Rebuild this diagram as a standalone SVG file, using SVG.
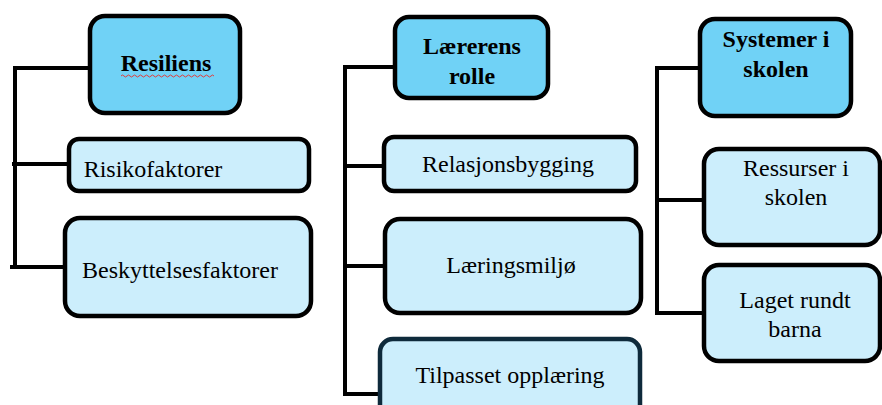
<svg xmlns="http://www.w3.org/2000/svg" width="882" height="405" viewBox="0 0 882 405">
  <style>
    .head rect { fill: #70D2F6; stroke: #000; stroke-width: 4.5; }
    .child rect { fill: #CCEEFC; stroke: #000; stroke-width: 4.5; }
    text { font-family: 'Liberation Serif', serif; font-size: 24px; fill: #000; text-anchor: middle; }
    .ht { font-weight: bold; }
    .conn line { stroke: #000; stroke-width: 4; stroke-linecap: butt; }
  </style>
  <rect width="882" height="405" fill="#fff"/>
  <g class="conn" id="connectors">
    <line x1="15" y1="66" x2="15" y2="269"/>
    <line x1="13" y1="68" x2="90" y2="68"/>
    <line x1="12" y1="164" x2="69" y2="164"/>
    <line x1="10" y1="267" x2="65" y2="267"/>
    <line x1="345" y1="65" x2="345" y2="396"/>
    <line x1="343" y1="67" x2="395" y2="67"/>
    <line x1="345" y1="166" x2="384" y2="166"/>
    <line x1="345" y1="266" x2="385" y2="266"/>
    <line x1="345" y1="394" x2="380" y2="394"/>
    <line x1="657" y1="66" x2="657" y2="315"/>
    <line x1="655" y1="68" x2="700" y2="68"/>
    <line x1="657" y1="200" x2="704" y2="200"/>
    <line x1="657" y1="313" x2="704" y2="313"/>
  </g>
  <g id="resiliens" class="head">
    <rect x="90" y="16" width="150" height="97" rx="15"/>
    <text class="ht" x="166" y="71">Resiliens</text>
    <path d="M121 76 q1.5 -2 3 0 t3 0 t3 0 t3 0 t3 0 t3 0 t3 0 t3 0 t3 0 t3 0 t3 0 t3 0 t3 0 t3 0 t3 0 t3 0 t3 0 t3 0 t3 0 t3 0 t3 0 t3 0 t3 0 t3 0 t3 0 t3 0 t3 0 t3 0 t3 0 t3 0 t3 0" fill="none" stroke="#E23B3B" stroke-width="1"/>
  </g>
  <g id="risikofaktorer" class="child">
    <rect x="69" y="139" width="240" height="52" rx="10"/>
    <text x="153" y="177">Risikofaktorer</text>
  </g>
  <g id="beskyttelsesfaktorer" class="child">
    <rect x="65" y="218" width="246" height="98" rx="15"/>
    <text x="180" y="278">Beskyttelsesfaktorer</text>
  </g>
  <g id="lærerens-rolle" class="head">
    <rect x="395" y="17" width="153" height="81" rx="14"/>
    <text class="ht" x="472" y="54">Lærerens</text>
    <text class="ht" x="472" y="84">rolle</text>
  </g>
  <g id="relasjonsbygging" class="child">
    <rect x="384" y="137" width="252" height="54" rx="10"/>
    <text x="508" y="172">Relasjonsbygging</text>
  </g>
  <g id="læringsmiljø" class="child">
    <rect x="385" y="219" width="256" height="94" rx="15"/>
    <text x="511" y="273">Læringsmiljø</text>
  </g>
  <g id="tilpasset-opplæring" class="child">
    <rect x="380" y="339" width="260" height="80" rx="13" style="stroke:#0E2A3B"/>
    <text x="510" y="383">Tilpasset opplæring</text>
  </g>
  <g id="systemer-i-skolen" class="head">
    <rect x="700" y="19" width="151" height="97" rx="15"/>
    <text class="ht" x="776" y="47">Systemer i</text>
    <text class="ht" x="776" y="77">skolen</text>
  </g>
  <g id="ressurser-i-skolen" class="child">
    <rect x="704" y="149" width="176" height="96" rx="15"/>
    <text x="796" y="176">Ressurser i</text>
    <text x="796" y="205">skolen</text>
  </g>
  <g id="laget-rundt-barna" class="child">
    <rect x="704" y="265" width="176" height="96" rx="15"/>
    <text x="795" y="308">Laget rundt</text>
    <text x="795" y="337">barna</text>
  </g>
</svg>
